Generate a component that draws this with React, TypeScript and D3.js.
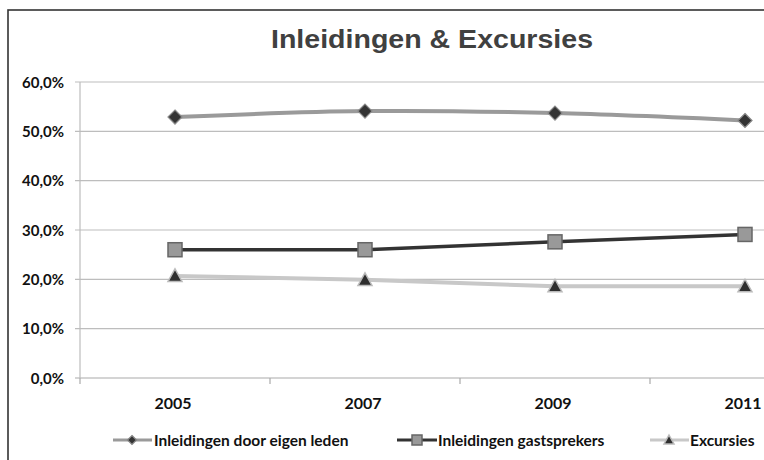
import React from "react";
import * as d3 from "d3";

const years = ["2005", "2007", "2009", "2011"];
const eigenLeden = [0.529, 0.541, 0.537, 0.522];
const gastsprekers = [0.26, 0.26, 0.276, 0.291];
const excursies = [0.207, 0.199, 0.186, 0.186];
const yTicks = [0, 0.1, 0.2, 0.3, 0.4, 0.5, 0.6];
const seriesNames = ["Inleidingen door eigen leden", "Inleidingen gastsprekers", "Excursies"];

const W = 764, H = 460;
const left = 80, top = 82, bottom = 378, bandW = 190;

export default function App() {
  const x = d3.scaleBand<string>().domain(years).range([left, left + bandW * years.length]);
  const y = d3.scaleLinear().domain([0, 0.6]).range([bottom, top]);
  const cx = (yr: string) => (x(yr) ?? 0) + x.bandwidth() / 2;
  const fmt = (v: number) => (v * 100).toFixed(1).replace(".", ",") + "%";

  const smooth = d3.line<number>().x((_, i) => cx(years[i])).y(d => y(d)).curve(d3.curveCatmullRom.alpha(0.5));
  const straight = d3.line<number>().x((_, i) => cx(years[i])).y(d => y(d));

  const diamond = (px: number, py: number, key: string, s = 7) => (
    <path key={key} d={`M${px},${py - s}L${px + s},${py}L${px},${py + s}L${px - s},${py}Z`} fill="#333" stroke="#888" strokeWidth={1.2} />
  );
  const square = (px: number, py: number, key: string, s = 7) => (
    <rect key={key} x={px - s} y={py - s} width={2 * s} height={2 * s} fill="#999" stroke="#666" strokeWidth={1.5} />
  );
  const tri = (px: number, py: number, key: string, s = 7) => (
    <path key={key} d={`M${px},${py - s}L${px + s},${py + s * 0.8}L${px - s},${py + s * 0.8}Z`} fill="#2e2e2e" stroke="#bbb" strokeWidth={1.5} />
  );

  const tickFont = "Lato, 'DejaVu Sans', sans-serif";

  return (
    <svg width={W} height={H} style={{ position: "absolute", left: 0, top: 0, background: "#fff" }}>
      <rect x={8} y={10} width={900} height={500} fill="#fff" stroke="#333" strokeWidth={1.6} />
      <text x={271} y={48} textLength={322} lengthAdjust="spacingAndGlyphs" fontFamily="'Liberation Sans', Arial, sans-serif" fontWeight="bold" fontSize={26} fill="#404040">
        Inleidingen &amp; Excursies
      </text>
      {yTicks.map(t => (
        <g key={t}>
          <line x1={left - 5} x2={900} y1={y(t)} y2={y(t)} stroke={t === 0 ? "#aaa" : "#bdbdbd"} strokeWidth={1.2} />
          <text x={64} y={y(t) + 5.5} textAnchor="end" fontFamily={tickFont} fontWeight="bold" fontSize={15} fill="#111">{fmt(t)}</text>
        </g>
      ))}
      <line x1={left} x2={left} y1={top} y2={bottom} stroke="#bdbdbd" strokeWidth={1.2} />
      <line x1={left} x2={left} y1={bottom} y2={bottom + 6} stroke="#aaa" strokeWidth={1.2} />
      {years.map((yr, i) => (
        <g key={yr}>
          <line x1={left + bandW * (i + 1)} x2={left + bandW * (i + 1)} y1={bottom} y2={bottom + 6} stroke="#aaa" strokeWidth={1.2} />
          <text x={cx(yr) - 2} y={409} textAnchor="middle" fontFamily={tickFont} fontWeight="bold" fontSize={16} fill="#111">{yr}</text>
        </g>
      ))}
      <path d={straight(excursies) ?? ""} fill="none" stroke="#c8c8c8" strokeWidth={4} />
      <path d={straight(gastsprekers) ?? ""} fill="none" stroke="#333" strokeWidth={3.5} />
      <path d={smooth(eigenLeden) ?? ""} fill="none" stroke="#9a9a9a" strokeWidth={4} />
      {eigenLeden.map((v, i) => diamond(cx(years[i]), y(v), "d" + i))}
      {gastsprekers.map((v, i) => square(cx(years[i]), y(v), "s" + i))}
      {excursies.map((v, i) => tri(cx(years[i]), y(v), "t" + i))}
      <g fontFamily={tickFont} fontWeight="bold" fontSize={15.5} fill="#111">
        <line x1={113} x2={152} y1={440} y2={440} stroke="#9a9a9a" strokeWidth={3} />
        {diamond(132, 440, "ld", 4.5)}
        <text x={154} y={445.5}>{seriesNames[0]}</text>
        <line x1={397} x2={437} y1={440} y2={440} stroke="#333" strokeWidth={3} />
        {square(417, 440, "ls", 5)}
        <text x={438} y={445.5}>{seriesNames[1]}</text>
        <line x1={650} x2={689} y1={440} y2={440} stroke="#c8c8c8" strokeWidth={3} />
        {tri(669, 440, "lt", 5)}
        <text x={690} y={445.5}>{seriesNames[2]}</text>
      </g>
    </svg>
  );
}
